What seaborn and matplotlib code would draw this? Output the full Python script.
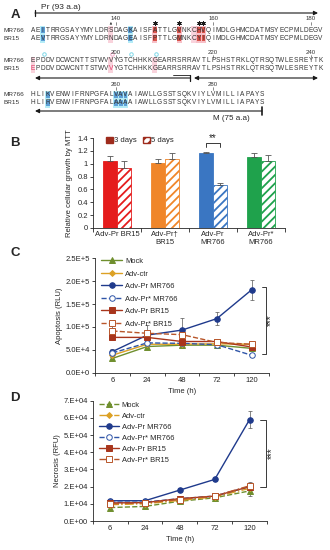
import matplotlib
matplotlib.use("Agg")
import matplotlib.pyplot as plt
from matplotlib.patches import Rectangle, Patch
import numpy as np
import pandas as pd
import seaborn as sns

# ---- Panel A: prM alignment ----
mr766_rows = [
    "AEITRRGSAYYMYLDRSDAGKAISFATTLGVNKCHVQIMDLGHMCDATMSYECPMLDEGV",
    "EPDDVDCWCNTTSTWVVYGTCHHKKGEARRSRRAVTLPSHSTRKLQTRSQTWLESREYTK",
    "HLIKVENWIFRNPGFALVAVAIAWLLGSSTSQKVIYLVMILLIAPAYS",
]
br15_rows = [
    "AEVTRRGSAYYMYLDRNDAGEAISFPTTLGMNKCYIQIMDLGHMCDATMSYECPMLDEGV",
    "EPDDVDCWCNTTSTWVVYGTCHHKKGEARRSRRAVTLPSHSTRKLQTRSQTWLESREYTK",
    "HLIRVENWIFRNPGFALAAAAIAWLLGSSTSQKVIYLVMILLIAPAYS",
]
row_start = [123, 183, 243]
blue_sites = [[2, 20], [], [3, 17, 18, 19]]
red_sites = [[25, 30, 34, 35], [], []]
pink_sites = [[16, 33], [0, 16, 25], []]
star_sites = [25, 30, 34, 35]

# ---- Panel B: MTT ----
mtt_groups = ["Adv-Pr BR15", "Adv-Pr\u2020\nBR15", "Adv-Pr\nMR766", "Adv-Pr*\nMR766"]
mtt_3d = [1.04, 1.01, 1.16, 1.11]
mtt_3d_err = [0.08, 0.07, 0.03, 0.05]
mtt_5d = [0.94, 1.07, 0.67, 1.05]
mtt_5d_err = [0.10, 0.10, 0.03, 0.08]
mtt_colors = ["#e51c1c", "#f0862a", "#3a76c2", "#1fa24c"]

# ---- Panels C/D: time courses ----
times = ["6", "24", "48", "72", "120"]
series = ["Mock", "Adv-ctr", "Adv-Pr MR766", "Adv-Pr* MR766", "Adv-Pr BR15", "Adv-Pr* BR15"]
apop = {
    "Mock": [3.1e4, 5.7e4, 6.0e4, 6.0e4, 5.3e4],
    "Adv-ctr": [3.8e4, 6.2e4, 6.2e4, 6.3e4, 6.2e4],
    "Adv-Pr MR766": [4.6e4, 8.2e4, 9.3e4, 1.18e5, 1.81e5],
    "Adv-Pr* MR766": [4.3e4, 6.5e4, 6.4e4, 6.1e4, 3.8e4],
    "Adv-Pr BR15": [7.7e4, 7.7e4, 6.8e4, 6.8e4, 5.6e4],
    "Adv-Pr* BR15": [9.1e4, 8.6e4, 8.3e4, 6.6e4, 6.2e4],
}
apop_err = {
    "Mock": [0.3e4, 0.6e4, 0.5e4, 0.6e4, 0.4e4],
    "Adv-ctr": [0.3e4, 0.5e4, 0.5e4, 0.5e4, 0.4e4],
    "Adv-Pr MR766": [0.5e4, 1.0e4, 2.6e4, 1.4e4, 2.2e4],
    "Adv-Pr* MR766": [0.4e4, 0.6e4, 0.5e4, 0.5e4, 0.3e4],
    "Adv-Pr BR15": [0.5e4, 0.6e4, 0.6e4, 0.5e4, 0.5e4],
    "Adv-Pr* BR15": [1.4e4, 1.8e4, 0.8e4, 0.5e4, 0.4e4],
}
necro = {
    "Mock": [0.78e4, 0.85e4, 1.15e4, 1.35e4, 1.75e4],
    "Adv-ctr": [0.95e4, 1.0e4, 1.2e4, 1.4e4, 1.9e4],
    "Adv-Pr MR766": [1.18e4, 1.18e4, 1.8e4, 2.42e4, 5.9e4],
    "Adv-Pr* MR766": [1.1e4, 1.1e4, 1.3e4, 1.45e4, 2.0e4],
    "Adv-Pr BR15": [1.05e4, 1.07e4, 1.3e4, 1.45e4, 2.0e4],
    "Adv-Pr* BR15": [1.0e4, 1.05e4, 1.25e4, 1.45e4, 2.05e4],
}
necro_err = {
    "Mock": [0.1e4, 0.1e4, 0.1e4, 0.15e4, 0.28e4],
    "Adv-ctr": [0.1e4, 0.1e4, 0.1e4, 0.1e4, 0.2e4],
    "Adv-Pr MR766": [0.1e4, 0.1e4, 0.1e4, 0.1e4, 0.5e4],
    "Adv-Pr* MR766": [0.1e4, 0.1e4, 0.1e4, 0.1e4, 0.2e4],
    "Adv-Pr BR15": [0.1e4, 0.1e4, 0.1e4, 0.1e4, 0.2e4],
    "Adv-Pr* BR15": [0.1e4, 0.1e4, 0.1e4, 0.1e4, 0.2e4],
}
apop_ticks = ["0.0E+0", "5.0E+4", "1.0E+5", "1.5E+5", "2.0E+5", "2.5E+5"]
necro_ticks = ["0.E+00", "1.E+04", "2.E+04", "3.E+04", "4.E+04", "5.E+04", "6.E+04", "7.E+04"]

colors = {
    "Mock": "#6f8f2e",
    "Adv-ctr": "#dca125",
    "Adv-Pr MR766": "#1f3a8c",
    "Adv-Pr* MR766": "#2f55a8",
    "Adv-Pr BR15": "#a8351c",
    "Adv-Pr* BR15": "#b8562a",
}
markers = {"Mock": "^", "Adv-ctr": "D", "Adv-Pr MR766": "o",
           "Adv-Pr* MR766": "o", "Adv-Pr BR15": "s", "Adv-Pr* BR15": "s"}
open_marker = {"Adv-Pr* MR766", "Adv-Pr* BR15"}
styles_c = {"Mock": "-", "Adv-ctr": "-", "Adv-Pr MR766": "-",
            "Adv-Pr* MR766": "--", "Adv-Pr BR15": "-", "Adv-Pr* BR15": "--"}
styles_d = {"Mock": "--", "Adv-ctr": "-.", "Adv-Pr MR766": "-",
            "Adv-Pr* MR766": "--", "Adv-Pr BR15": "-", "Adv-Pr* BR15": "-."}

sns.set_theme(style="ticks")
plt.rcParams["font.family"] = ["Liberation Sans", "DejaVu Sans"]
plt.rcParams["hatch.linewidth"] = 1.3
FS = 5.5

fig = plt.figure(figsize=(3.3, 5.5), dpi=100)


def px_axes(x0, x1, y0, y1):
    return fig.add_axes([x0 / 330, 1 - y1 / 550, (x1 - x0) / 330, (y1 - y0) / 550])


# ================= Panel A =================
axA = px_axes(0, 330, 0, 122)
axA.set_xlim(0, 330)
axA.set_ylim(122, 0)
axA.axis("off")
x0, dx = 33.0, 4.87
row_y = [(19, 30, 38), (52, 61, 68), (84, 95, 103)]


def cx(i):
    return x0 + i * dx


for r in range(3):
    y_num, y_mr, y_br = row_y[r]
    for i in blue_sites[r]:
        axA.add_patch(Rectangle((cx(i) - dx / 2, y_mr - 4.5), dx, y_br - y_mr + 9, color="#b5ecf7", lw=0))
        for yy in (y_mr, y_br):
            axA.add_patch(Rectangle((cx(i) - dx / 2 + 0.5, yy - 3), dx - 1, 6, color="#5d9fd6", lw=0))
    for i in red_sites[r]:
        axA.add_patch(Rectangle((cx(i) - dx / 2, y_mr - 4.5), dx, y_br - y_mr + 9, color="#f7c0c8", lw=0))
        for yy in (y_mr, y_br):
            axA.add_patch(Rectangle((cx(i) - dx / 2 + 0.5, yy - 3), dx - 1, 6, color="#d9534a", lw=0))
    for i in pink_sites[r]:
        axA.add_patch(Rectangle((cx(i) - dx / 2, y_mr - 4.5), dx, y_br - y_mr + 9, color="#f9d3dc", lw=0))
    for name, seq, yy in (("MR766", mr766_rows[r], y_mr), ("BR15", br15_rows[r], y_br)):
        axA.text(3, yy, name, ha="left", va="center", fontsize=4.6, color="#333333")
        for i, ch in enumerate(seq):
            col = "#e03060" if (r == 1 and i in (0, 16) and name == "BR15") else "#333333"
            axA.text(cx(i), yy, ch, ha="center", va="center", fontsize=4.7, color=col)
    for i in range(len(mr766_rows[r])):
        n = row_start[r] + i
        if n % 20 == 0:
            axA.text(cx(i), y_num, str(n), ha="center", va="center", fontsize=4.3, color="#333333")
            axA.plot([cx(i), cx(i)], [y_num + 3, y_num + 6], color="#333333", lw=0.4)

# asterisks over the key sites, drawn as markers
axA.plot([cx(i) for i in star_sites], [22.5] * len(star_sites), linestyle="none",
         marker=(6, 2, 0), ms=3.2, mew=0.7, color="k")
axA.annotate("", xy=(cx(16), 22), xytext=(cx(16), 27.5),
             arrowprops=dict(arrowstyle="->", lw=0.5, color="#333333", mutation_scale=3))
for i, c in ((2, "#7fd8e8"), (16, "#f7a8c8"), (20, "#7fd8e8"), (25, "#7fd8e8")):
    axA.plot(cx(i) + 1, 54, marker="o", ms=2.5, mfc="none", mec=c, mew=0.7)

arrow = dict(arrowstyle="-|>", lw=0.8, color="k", mutation_scale=6, shrinkA=0, shrinkB=0)
# Pr
axA.annotate("", xy=(318, 13), xytext=(35, 13), arrowprops=arrow)
axA.plot([35, 35], [10, 16], color="k", lw=0.9)
axA.text(41, 7.5, "Pr (93 a.a)", fontsize=6, va="center", ha="left")
# row 2 arrows
axA.annotate("", xy=(35, 78), xytext=(190, 78), arrowprops=arrow)
axA.plot([190, 190], [75, 81], color="k", lw=0.9)
axA.plot([173, 190, 190], [74.5, 74.5, 77], color="k", lw=0.6)
axA.annotate("", xy=(194, 78), xytext=(318, 78),
             arrowprops=dict(arrowstyle="<|-|>", lw=0.8, color="k", mutation_scale=6, shrinkA=0, shrinkB=0))
# M
axA.annotate("", xy=(35, 111), xytext=(262, 111), arrowprops=arrow)
axA.plot([262, 262], [107, 115], color="k", lw=1.2)
axA.text(213, 118.5, "M (75 a.a)", fontsize=5.8, va="center", ha="left")

# ================= Panel B =================
axB = px_axes(93, 285, 138, 228)
mtt_df = pd.DataFrame({
    "group": mtt_groups * 2,
    "day": ["3 days"] * 4 + ["5 days"] * 4,
    "value": mtt_3d + mtt_5d,
})
sns.barplot(data=mtt_df, x="group", y="value", hue="day", width=0.6,
            errorbar=None, legend=False, ax=axB)
bar_conts = list(axB.containers)
for ci, cont in enumerate(bar_conts):
    errs = mtt_3d_err if ci == 0 else mtt_5d_err
    for gi, bar in enumerate(cont.patches):
        c = mtt_colors[gi]
        if ci == 0:
            bar.set_facecolor(c)
            bar.set_edgecolor(c)
        else:
            bar.set_facecolor("white")
            bar.set_edgecolor(c)
            bar.set_hatch("////")
        bar.set_linewidth(0.6)
        xc = bar.get_x() + bar.get_width() / 2
        axB.errorbar(xc, bar.get_height(), yerr=[[0], [errs[gi]]], fmt="none",
                     ecolor="#555555", elinewidth=0.6, capsize=2, capthick=0.6)
axB.set_ylim(0, 1.4)
axB.set_yticks(np.arange(0, 1.41, 0.2))
axB.set_yticklabels(["0", "0.2", "0.4", "0.6", "0.8", "1", "1.2", "1.4"])
axB.set_xlim(-0.5, 3.5)
axB.set_xticks(np.arange(-0.5, 3.6, 1.0), minor=True)
axB.tick_params(axis="x", which="major", length=0, labelsize=FS, pad=2)
axB.tick_params(axis="x", which="minor", length=3, width=0.6, direction="out")
axB.tick_params(axis="y", labelsize=FS, length=2, width=0.6, pad=1.5)
axB.set_xlabel("")
axB.set_ylabel("Relative cellular growth by MTT", fontsize=FS, labelpad=3)
sns.despine(ax=axB)
for s in ("left", "bottom"):
    axB.spines[s].set_linewidth(0.6)
leg_handles = [Patch(facecolor="#9e2b1c", edgecolor="#9e2b1c"),
               Patch(facecolor="white", edgecolor="#9e2b1c", hatch="////")]
axB.legend(leg_handles, ["3 days", "5 days"], loc="upper left", bbox_to_anchor=(0.05, 1.05),
           ncol=2, frameon=False, fontsize=FS, handlelength=0.9, handleheight=0.9,
           handletextpad=0.2, columnspacing=0.8, borderaxespad=0)
axB.plot([1.85, 1.85, 2.15, 2.15], [1.26, 1.32, 1.32, 1.26], color="k", lw=0.6)
axB.text(2.0, 1.32, "**", ha="center", va="bottom", fontsize=7)


# ================= Panels C, D =================
def time_course(ax, vals, errs, styles, ytick_labels, ymax, ystep, ylabel, legend_kw):
    pos = np.arange(len(times))
    for name in series:
        c = colors[name]
        sns.lineplot(x=pos, y=vals[name], ax=ax, color=c, linestyle=styles[name], lw=1.0,
                     marker=markers[name], markersize=4 if markers[name] != "D" else 3,
                     markerfacecolor="white" if name in open_marker else c,
                     markeredgecolor=c, markeredgewidth=0.7, label=name)
        ax.errorbar(pos, vals[name], yerr=errs[name], fmt="none", ecolor="#555555",
                    elinewidth=0.5, capsize=1.5, capthick=0.5, zorder=1)
    ax.set_xlim(-0.5, len(times) - 0.5)
    ax.set_xticks(pos)
    ax.set_xticklabels(times)
    ax.set_xticks(np.arange(-0.5, len(times), 1.0), minor=True)
    ax.tick_params(axis="x", which="major", length=0, labelsize=FS, pad=3)
    ax.tick_params(axis="x", which="minor", length=2.5, width=0.6, direction="out")
    ax.set_ylim(0, ymax)
    ax.set_yticks(np.arange(0, ymax + 1, ystep))
    ax.set_yticklabels(ytick_labels)
    ax.tick_params(axis="y", labelsize=FS, length=2, width=0.6, pad=1.5)
    ax.set_xlabel("Time (h)", fontsize=FS, labelpad=3)
    ax.set_ylabel(ylabel, fontsize=FS, labelpad=2)
    sns.despine(ax=ax)
    for s in ("left", "bottom"):
        ax.spines[s].set_linewidth(0.6)
    ax.legend(loc="upper left", frameon=False, fontsize=5.4, borderaxespad=0, **legend_kw)


axC = px_axes(95, 269, 258.3, 372.6)
time_course(axC, apop, apop_err, styles_c, apop_ticks, 2.5e5, 0.5e5, "Apoptosis (RLU)",
            dict(bbox_to_anchor=(0.02, 1.03), handlelength=2.8, labelspacing=0.7, handletextpad=0.4))
axC.plot([4.3, 4.4, 4.4, 4.3], [1.88e5, 1.88e5, 0.4e5, 0.4e5], color="k", lw=0.6, clip_on=False)
axC.text(4.55, 1.14e5, "***", rotation=90, ha="center", va="center", fontsize=7, clip_on=False)

axD = px_axes(92.7, 267, 400.7, 521)
time_course(axD, necro, necro_err, styles_d, necro_ticks, 7e4, 1e4, "Necrosis (RFU)",
            dict(bbox_to_anchor=(0.02, 1.02), handlelength=2.6, labelspacing=0.5, handletextpad=0.4))
axD.plot([4.29, 4.48, 4.48, 4.29], [5.9e4, 5.9e4, 2.0e4, 2.0e4], color="k", lw=0.6, clip_on=False)
axD.text(4.63, 3.95e4, "***", rotation=90, ha="center", va="center", fontsize=7, clip_on=False)

# panel letters
for lab, (x, y) in {"A": (15, 15), "B": (15, 143), "C": (15, 253), "D": (15, 398)}.items():
    fig.text(x / 330, 1 - y / 550, lab, fontsize=9.5, fontweight="bold", ha="center", va="center")

fig.savefig("out.png", dpi=100)
